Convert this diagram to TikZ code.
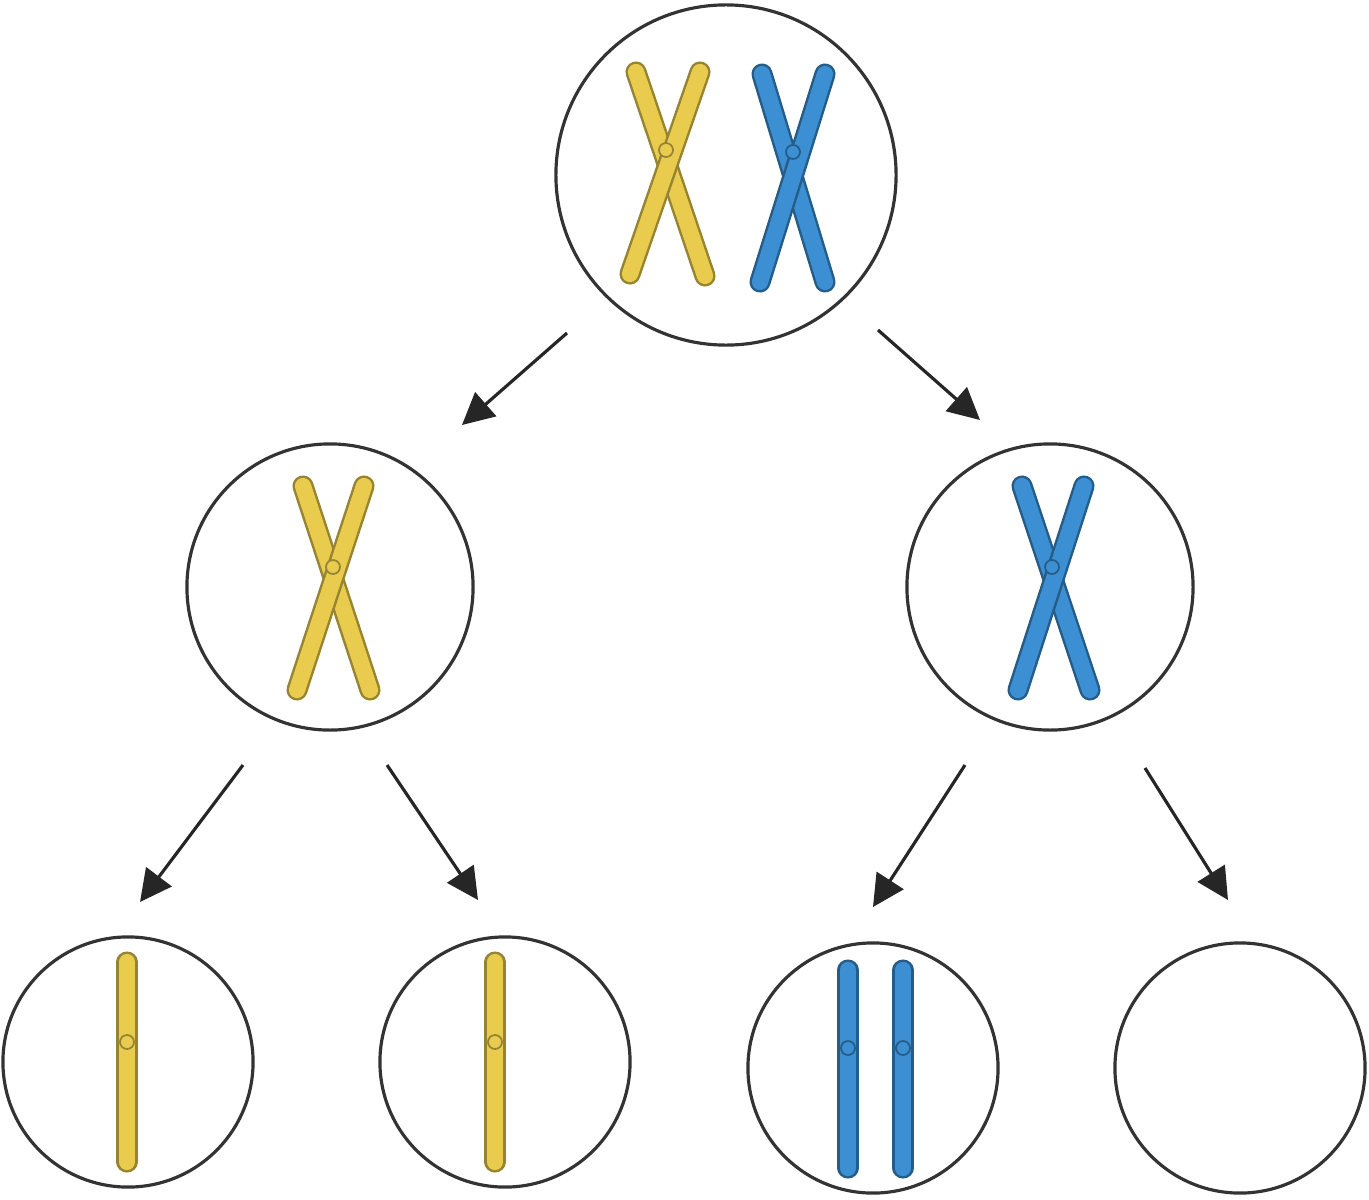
\documentclass[tikz,border=0pt]{standalone}
\usetikzlibrary{arrows.meta}
\definecolor{yel}{HTML}{E9CB4E}
\definecolor{blu}{HTML}{3B8FD2}
\newcommand\chrbar[3]{\draw[line width=6pt,#3!65!black,line cap=round] #1 -- #2; \draw[line width=4.6pt,#3,line cap=round] #1 -- #2;}
\newcommand\cmere[2]{\fill[#2] #1 circle (7); \draw[#2!65!black,line width=0.5pt] #1 circle (7);}
\tikzset{cell/.style={circle,draw=black!80,line width=0.9pt,inner sep=0pt},
arr/.style={-{Triangle[length=9pt,width=9pt]},line width=0.9pt,black!85}}
\begin{document}
\begin{tikzpicture}[x=0.01cm,y=-0.01cm]
\useasboundingbox (0,0) rectangle (1369,1200);
\node[cell,minimum size=3.4cm] (top) at (726,175) {};
\node[cell,minimum size=2.86cm] (ml) at (330,587) {};
\node[cell,minimum size=2.86cm] (mr) at (1050,587) {};
\node[cell,minimum size=2.5cm] (b1) at (128,1062) {};
\node[cell,minimum size=2.5cm] (b2) at (505,1062) {};
\node[cell,minimum size=2.5cm] (b3) at (873,1068) {};
\node[cell,minimum size=2.5cm] (b4) at (1240,1068) {};
% chromosomes
\chrbar{(636,72)}{(705,276)}{yel}\chrbar{(700,72)}{(630,274)}{yel}\cmere{(666,150)}{yel}
\chrbar{(762,74)}{(825,282)}{blu}\chrbar{(825,74)}{(760,282)}{blu}\cmere{(793,152)}{blu}
\chrbar{(303,486)}{(370,690)}{yel}\chrbar{(364,486)}{(297,690)}{yel}\cmere{(333,567)}{yel}
\chrbar{(1022,486)}{(1090,690)}{blu}\chrbar{(1084,486)}{(1018,690)}{blu}\cmere{(1052,567)}{blu}
\chrbar{(127,962)}{(127,1162)}{yel}\cmere{(127,1042)}{yel}
\chrbar{(495,962)}{(495,1162)}{yel}\cmere{(495,1042)}{yel}
\chrbar{(848,970)}{(848,1168)}{blu}\cmere{(848,1048)}{blu}
\chrbar{(903,970)}{(903,1168)}{blu}\cmere{(903,1048)}{blu}
% arrows
\coordinate (a1s) at (567,333); \coordinate (a1e) at (462,425);
\coordinate (a2s) at (878,330); \coordinate (a2e) at (980,420);
\coordinate (a3s) at (243,765); \coordinate (a3e) at (140,902);
\coordinate (a4s) at (387,765); \coordinate (a4e) at (478,900);
\coordinate (a5s) at (965,765); \coordinate (a5e) at (873,907);
\coordinate (a6s) at (1145,768); \coordinate (a6e) at (1228,900);
\foreach \i in {1,...,6} \draw[arr] (a\i s) -- (a\i e);
\end{tikzpicture}
\end{document}
